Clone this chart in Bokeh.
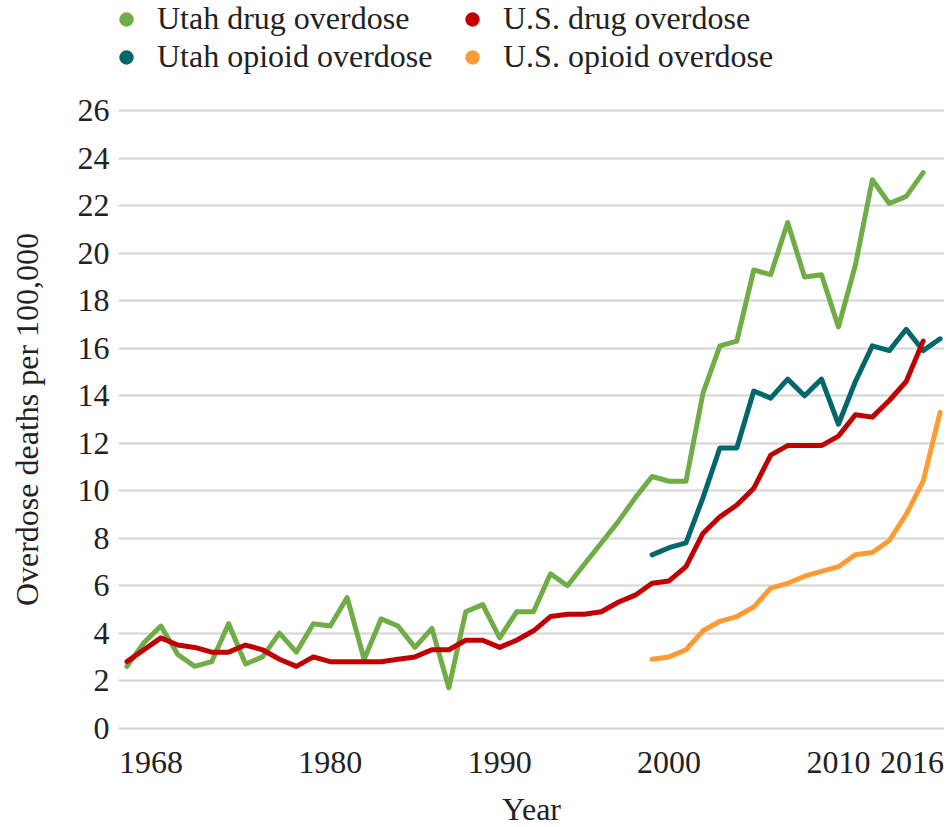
from bokeh.plotting import figure
from bokeh.layouts import column
from bokeh.models import Range1d, FixedTicker, Legend, LegendItem
from bokeh.embed import file_html
from bokeh.resources import INLINE

# ---- data ----
years_drug = list(range(1968, 2016))
utah_drug = [2.6, 3.6, 4.3, 3.1, 2.6, 2.8, 4.4, 2.7, 3.0, 4.0,
             3.2, 4.4, 4.3, 5.5, 2.9, 4.6, 4.3, 3.4, 4.2, 1.7,
             4.9, 5.2, 3.8, 4.9, 4.9, 6.5, 6.0, 6.9, 7.8, 8.7,
             9.7, 10.6, 10.4, 10.4, 14.1, 16.1, 16.3, 19.3, 19.1, 21.3,
             19.0, 19.1, 16.9, 19.5, 23.1, 22.1, 22.4, 23.4]
us_drug = [2.8, 3.3, 3.8, 3.5, 3.4, 3.2, 3.2, 3.5, 3.3, 2.9,
           2.6, 3.0, 2.8, 2.8, 2.8, 2.8, 2.9, 3.0, 3.3, 3.3,
           3.7, 3.7, 3.4, 3.7, 4.1, 4.7, 4.8, 4.8, 4.9, 5.3,
           5.6, 6.1, 6.2, 6.8, 8.2, 8.9, 9.4, 10.1, 11.5, 11.9,
           11.9, 11.9, 12.3, 13.2, 13.1, 13.8, 14.6, 16.3]
years_opioid = list(range(1999, 2017))
utah_opioid = [7.3, 7.6, 7.8, 9.7, 11.8, 11.8, 14.2, 13.9, 14.7, 14.0,
               14.7, 12.8, 14.6, 16.1, 15.9, 16.8, 15.9, 16.4]
us_opioid = [2.9, 3.0, 3.3, 4.1, 4.5, 4.7, 5.1, 5.9, 6.1, 6.4,
             6.6, 6.8, 7.3, 7.4, 7.9, 9.0, 10.4, 13.3]

series_names = ["Utah drug overdose", "Utah opioid overdose",
                "U.S. drug overdose", "U.S. opioid overdose"]
x_tick_labels = [1968, 1980, 1990, 2000, 2010, 2016]
y_ticks = list(range(0, 27, 2))

# ---- style ----
FONT = "Liberation Serif"
FS = "32px"
TXT = "#222222"
C_UT_DRUG = "#70AD47"
C_UT_OPI = "#02676A"
C_US_DRUG = "#C00000"
C_US_OPI = "#FF9B35"
colors = [C_UT_DRUG, C_UT_OPI, C_US_DRUG, C_US_OPI]
series_x = [years_drug, years_opioid, years_drug, years_opioid]
series_y = [utah_drug, utah_opioid, us_drug, us_opioid]

BORDER_L = 118
FRAME_W = 826
W = BORDER_L + FRAME_W
X0, X1 = 1967.5, 2016.26
PX_PER_YEAR = FRAME_W / (X1 - X0)
LEG_H = 88

# ---------------- legend strip ----------------
lf = figure(width=W, height=LEG_H, min_border=0,
            x_axis_type=None, y_axis_type=None,
            x_range=Range1d(0, 1), y_range=Range1d(0, 1),
            output_backend="svg", toolbar_location=None,
            background_fill_color="white", border_fill_color="white")
lf.outline_line_color = None
lf.xgrid.grid_line_color = None
lf.ygrid.grid_line_color = None
# one data point per series, outside this strip's ranges: used only as
# legend glyph sources (nothing is drawn in the strip itself)
marks = [lf.scatter(x=series_x[i][:1], y=series_y[i][:1], marker="circle",
                    size=24, fill_color=colors[i], line_color=None)
         for i in range(4)]


def make_legend(idx, vx):
    lg = Legend(items=[LegendItem(label=series_names[i], renderers=[marks[i]])
                       for i in idx],
                location=(vx, 13), orientation="vertical",
                glyph_width=36, glyph_height=36, label_standoff=13,
                spacing=1, padding=0, margin=0,
                border_line_color=None, background_fill_alpha=0,
                label_text_font=FONT, label_text_font_size=FS,
                label_text_color=TXT)
    lf.add_layout(lg, "center")


make_legend([0, 1], -10)
make_legend([2, 3], 336)

# ---------------- main chart ----------------
p = figure(frame_width=FRAME_W, frame_height=622,
           min_border_left=BORDER_L, min_border_right=0,
           min_border_top=20, min_border_bottom=96,
           x_range=Range1d(X0, X1), y_range=Range1d(-0.1, 26.1),
           output_backend="svg", toolbar_location=None,
           background_fill_color="white", border_fill_color="white")
p.outline_line_color = None
p.xgrid.grid_line_color = None
p.ygrid.grid_line_color = "#D4D4D4"
p.ygrid.grid_line_width = 2
p.ygrid.ticker = FixedTicker(ticks=y_ticks)

# x tick labels: first and last are drawn shifted inward, as in the reference
edge_shift_px = {x_tick_labels[0]: 24, x_tick_labels[-1]: -28}
tick_pos = []
overrides = {}
for yr in x_tick_labels:
    pos = yr + edge_shift_px.get(yr, 0) / PX_PER_YEAR
    tick_pos.append(pos)
    overrides[pos] = str(yr)

p.yaxis.ticker = FixedTicker(ticks=y_ticks)
p.xaxis.ticker = FixedTicker(ticks=tick_pos)
p.xaxis.major_label_overrides = overrides
for ax in (p.xaxis, p.yaxis):
    ax.axis_line_color = None
    ax.major_tick_line_color = None
    ax.minor_tick_line_color = None
    ax.major_tick_out = 0
    ax.major_tick_in = 0
    ax.major_label_text_font = FONT
    ax.major_label_text_font_size = FS
    ax.major_label_text_color = TXT
    ax.axis_label_text_font = FONT
    ax.axis_label_text_font_size = FS
    ax.axis_label_text_font_style = "normal"
    ax.axis_label_text_color = TXT
p.yaxis.major_label_standoff = 9
p.yaxis.axis_label = "Overdose deaths per 100,000"
p.yaxis.axis_label_standoff = 30
p.xaxis.major_label_standoff = 21
p.xaxis.axis_label = "Year"
p.xaxis.axis_label_standoff = 15

lw = 5
p.line(years_drug, utah_drug, line_color=C_UT_DRUG, line_width=lw,
       line_join="round", line_cap="round")
p.line(years_opioid, utah_opioid, line_color=C_UT_OPI, line_width=lw,
       line_join="round", line_cap="round")
p.line(years_opioid, us_opioid, line_color=C_US_OPI, line_width=lw,
       line_join="round", line_cap="round")
p.line(years_drug, us_drug, line_color=C_US_DRUG, line_width=lw,
       line_join="round", line_cap="round")

layout = column(lf, p, spacing=0)
open("out.html", "w").write(file_html(layout, INLINE))
